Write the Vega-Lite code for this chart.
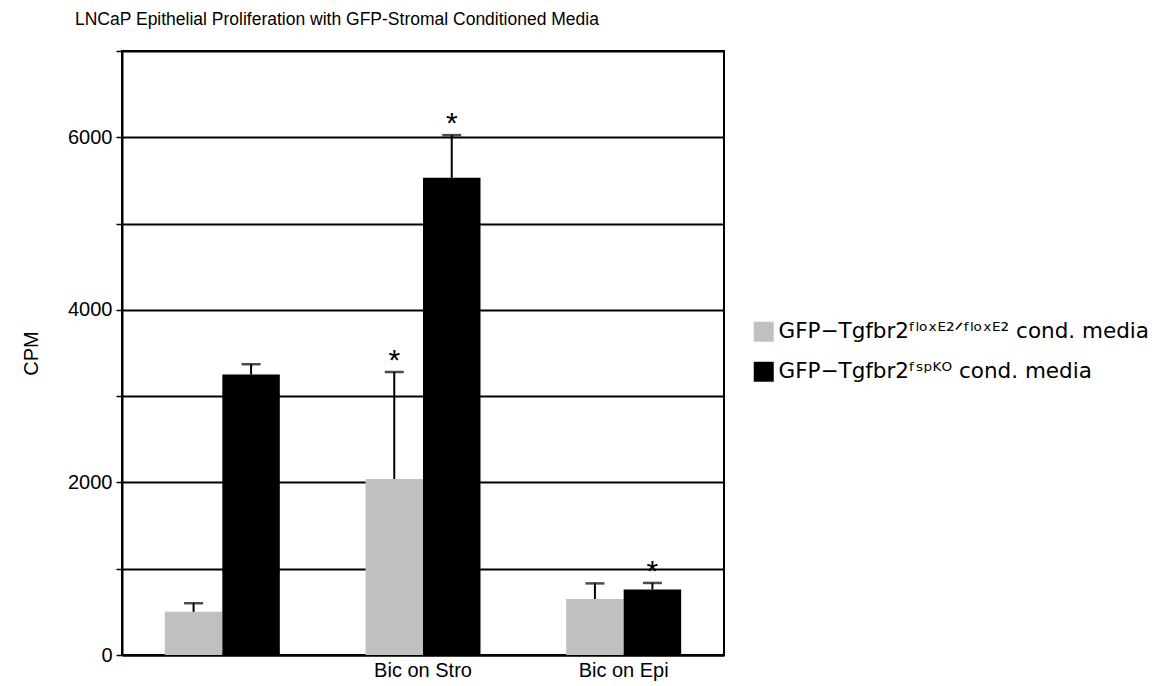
{
  "$schema": "https://vega.github.io/schema/vega-lite/v6.json",
  "autosize": "none",
  "width": 602,
  "height": 604,
  "padding": {"left": 122, "top": 51, "right": 439, "bottom": 31},
  "background": "white",
  "title": {
    "text": "LNCaP Epithelial Proliferation with GFP-Stromal Conditioned Media",
    "anchor": "start",
    "frame": "group",
    "dx": -47,
    "offset": 22,
    "font": "Liberation Sans",
    "fontSize": 17.5,
    "fontWeight": "normal",
    "color": "black"
  },
  "config": {
    "view": {"stroke": "black", "strokeWidth": 2},
    "font": "Liberation Sans"
  },
  "data": {
    "values": [
      {"treatment": "", "group": "GFP−Tgfbr2ᶠˡᵒˣᴱ²ᐟᶠˡᵒˣᴱ² cond. media", "cpm": 500, "hi": 600, "star": ""},
      {"treatment": "", "group": "GFP−Tgfbr2ᶠˢᵖᴷᴼ cond. media", "cpm": 3250, "hi": 3370, "star": ""},
      {"treatment": "Bic on Stro", "group": "GFP−Tgfbr2ᶠˡᵒˣᴱ²ᐟᶠˡᵒˣᴱ² cond. media", "cpm": 2040, "hi": 3280, "star": "*"},
      {"treatment": "Bic on Stro", "group": "GFP−Tgfbr2ᶠˢᵖᴷᴼ cond. media", "cpm": 5530, "hi": 6025, "star": "*"},
      {"treatment": "Bic on Epi", "group": "GFP−Tgfbr2ᶠˡᵒˣᴱ²ᐟᶠˡᵒˣᴱ² cond. media", "cpm": 650, "hi": 830, "star": ""},
      {"treatment": "Bic on Epi", "group": "GFP−Tgfbr2ᶠˢᵖᴷᴼ cond. media", "cpm": 760, "hi": 835, "star": "*"}
    ]
  },
  "encoding": {
    "x": {
      "field": "treatment",
      "type": "nominal",
      "sort": ["", "Bic on Stro", "Bic on Epi"],
      "scale": {"paddingInner": 0.427, "paddingOuter": 0.2135},
      "axis": {
        "title": null,
        "labelAngle": 0,
        "ticks": false,
        "domainColor": "black",
        "domainWidth": 2,
        "labelFontSize": 20,
        "labelColor": "black",
        "labelPadding": 5
      }
    },
    "xOffset": {
      "field": "group",
      "type": "nominal",
      "sort": ["GFP−Tgfbr2ᶠˡᵒˣᴱ²ᐟᶠˡᵒˣᴱ² cond. media", "GFP−Tgfbr2ᶠˢᵖᴷᴼ cond. media"]
    }
  },
  "layer": [
    {
      "mark": {"type": "bar"},
      "encoding": {
        "y": {
          "field": "cpm",
          "type": "quantitative",
          "scale": {"domain": [0, 7000], "nice": false},
          "axis": {
            "title": "CPM",
            "titleFontSize": 20,
            "titleFontWeight": "normal",
            "titleColor": "black",
            "titlePadding": 26,
            "values": [0, 1000, 2000, 3000, 4000, 5000, 6000, 7000],
            "labelExpr": "datum.value % 2000 == 0 && datum.value < 7000 ? datum.label : ''",
            "format": "d",
            "labelFontSize": 20,
            "labelColor": "black",
            "labelPadding": 4,
            "tickSize": 6,
            "tickColor": "black",
            "tickWidth": 1.5,
            "domainColor": "black",
            "domainWidth": 2,
            "grid": true,
            "gridColor": "black",
            "gridWidth": 2,
            "gridOpacity": 1
          }
        },
        "color": {
          "field": "group",
          "type": "nominal",
          "scale": {
            "domain": ["GFP−Tgfbr2ᶠˡᵒˣᴱ²ᐟᶠˡᵒˣᴱ² cond. media", "GFP−Tgfbr2ᶠˢᵖᴷᴼ cond. media"],
            "range": ["#c0c0c0", "#000000"]
          },
          "legend": {
            "title": null,
            "orient": "none",
            "legendX": 631,
            "legendY": 270,
            "symbolType": "square",
            "symbolSize": 400,
            "symbolStrokeWidth": 0,
            "symbolOpacity": 1,
            "labelFont": "DejaVu Sans",
            "labelFontSize": 21.5,
            "labelColor": "black",
            "labelLimit": 500,
            "labelOffset": 4,
            "rowPadding": 17
          }
        }
      }
    },
    {
      "mark": {"type": "rule", "color": "black", "strokeWidth": 2},
      "encoding": {
        "y": {"field": "cpm", "type": "quantitative"},
        "y2": {"field": "hi"}
      }
    },
    {
      "mark": {"type": "tick", "color": "black", "thickness": 2.5, "size": 19, "orient": "horizontal"},
      "encoding": {
        "y": {"field": "hi", "type": "quantitative"}
      }
    },
    {
      "mark": {"type": "text", "color": "black", "fontSize": 30, "baseline": "alphabetic", "dy": -2, "font": "Liberation Sans"},
      "encoding": {
        "y": {"field": "hi", "type": "quantitative"},
        "text": {"field": "star"}
      }
    }
  ]
}
